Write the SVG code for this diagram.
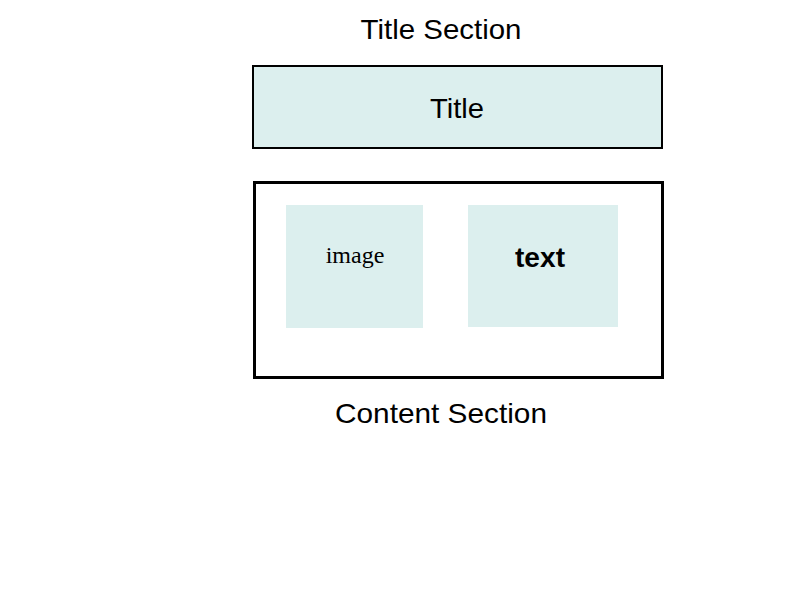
<svg xmlns="http://www.w3.org/2000/svg" width="800" height="600" viewBox="0 0 800 600">
<style>
.lbl{font-family:"Liberation Sans",Arial,sans-serif;font-size:28px;fill:#000;text-anchor:middle}
.fill{fill:#dcefee}
</style>
<rect width="800" height="600" fill="#fff"/>
<g id="title-section">
<text class="lbl" x="441" y="39" textLength="161" lengthAdjust="spacingAndGlyphs">Title Section</text>
<rect x="253" y="66" width="409" height="82" class="fill" stroke="#000" stroke-width="2"/>
<text class="lbl" x="457" y="118" textLength="54" lengthAdjust="spacingAndGlyphs">Title</text>
</g>
<g id="content-section">
<rect x="254.5" y="182.5" width="408" height="195" fill="#fff" stroke="#000" stroke-width="3"/>
<text class="lbl" x="441" y="423" textLength="212" lengthAdjust="spacingAndGlyphs">Content Section</text>
</g>
<g id="image">
<rect x="286" y="205" width="137" height="123" class="fill"/>
<text x="355" y="263" font-family="'Liberation Serif','Times New Roman',serif" font-size="24" text-anchor="middle">image</text>
</g>
<g id="text">
<rect x="468" y="205" width="150" height="122" class="fill"/>
<text x="540" y="267" font-family="'Liberation Sans',Arial,sans-serif" font-size="28" font-weight="bold" text-anchor="middle" textLength="50" lengthAdjust="spacingAndGlyphs">text</text>
</g>
<g id="connectors"></g>
</svg>
